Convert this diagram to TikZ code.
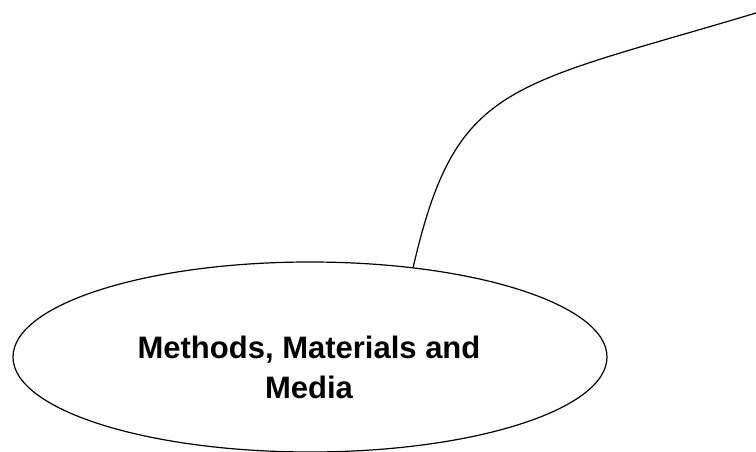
\documentclass[tikz,border=0pt]{standalone}
\usepackage{fontspec}
\setmainfont{Liberation Sans}
\usepackage{tikz}
\usetikzlibrary{shapes.geometric}

\begin{document}
\begin{tikzpicture}[x=1pt,y=-1pt]
	\tikzstyle{every path}=[line width=1.2pt]
	
	\tikzstyle{topicbox}=[ellipse,draw,minimum width=594pt,minimum height=190pt,inner sep=0pt]
	\tikzstyle{topictext}=[align=center,font=\bfseries\fontsize{31}{40}\selectfont]
	
	\useasboundingbox (0,0) rectangle (756,452);
	
	%% Draw the topic
	\node [topicbox] (methods) at (310,357) {};
	\node [topictext] (methodstext) at (309,367) {Methods, Materials and\\Media};
	
	%% Branch to the corner
	\coordinate (corner) at (756,13);
	\draw (methods.41) .. controls (456,82) and (506,88) .. (corner);
	
\end{tikzpicture}
\end{document}
